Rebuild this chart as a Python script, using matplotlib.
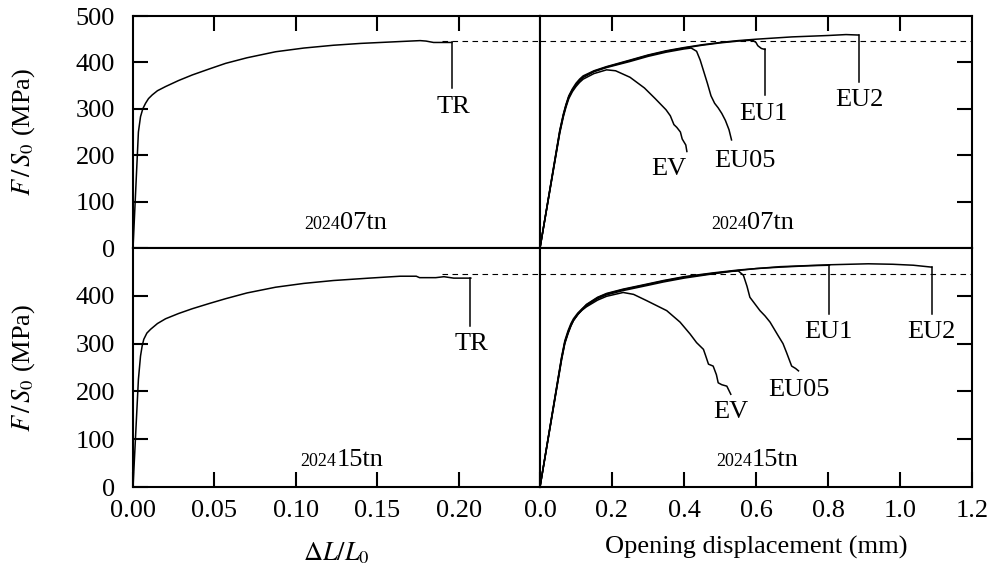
import numpy as np
import matplotlib
matplotlib.use("Agg")
import matplotlib.pyplot as plt

# tensile bar curves (strain vs nominal stress)
tr07_x = [0, 0.0033, 0.0046, 0.0060, 0.0077, 0.0095, 0.0118, 0.015, 0.020, 0.028,
          0.0364, 0.0469, 0.0569, 0.070, 0.0876, 0.105, 0.1231, 0.140, 0.1641,
          0.1764, 0.180, 0.1846, 0.1959]
tr07_y = [0, 250, 283, 300, 312, 322, 330, 339, 348, 361, 373, 386, 398, 410, 423,
          431, 437, 441, 445, 447, 446, 443, 443]
tr15_x = [0, 0.0033, 0.0046, 0.0056, 0.0066, 0.0085, 0.0108, 0.015, 0.020, 0.028,
          0.0364, 0.0469, 0.0569, 0.070, 0.0876, 0.105, 0.1231, 0.145, 0.1641,
          0.174, 0.176, 0.186, 0.191, 0.197, 0.2075]
tr15_y = [0, 225, 274, 295, 309, 322, 330, 342, 352, 363, 373, 384, 394, 406, 418,
          426, 432, 437, 441, 441, 438, 438, 440, 437, 437]

# notched specimens, series 202407tn (opening displacement vs F/S0)
ev07_x = [0, 0.055, 0.065, 0.072, 0.080, 0.090, 0.100, 0.110, 0.120, 0.150, 0.185,
          0.210, 0.250, 0.290, 0.320, 0.350, 0.362, 0.372, 0.380, 0.390, 0.395,
          0.405, 0.408]
ev07_y = [0, 248, 283, 303, 322, 337, 348, 357, 364, 376, 384, 382, 368, 345, 322,
          298, 285, 266, 260, 250, 235, 222, 208]
eu05_07_x = [0, 0.055, 0.065, 0.072, 0.080, 0.090, 0.100, 0.110, 0.120, 0.150, 0.185,
             0.250, 0.300, 0.350, 0.400, 0.420, 0.435, 0.445, 0.455, 0.465, 0.475,
             0.485, 0.495, 0.505, 0.515, 0.525, 0.532]
eu05_07_y = [0, 252, 287, 307, 326, 341, 352, 361, 368, 380, 389, 402, 413, 422, 429,
             431, 424, 405, 380, 355, 328, 312, 302, 290, 275, 255, 233]
eu1_07_x = [0, 0.055, 0.065, 0.072, 0.080, 0.090, 0.100, 0.110, 0.120, 0.150, 0.185,
            0.250, 0.300, 0.350, 0.400, 0.450, 0.500, 0.550, 0.590, 0.600, 0.605,
            0.615, 0.625]
eu1_07_y = [0, 250, 286, 306, 325, 340, 351, 361, 368, 381, 390, 404, 415, 424, 431,
            437, 442, 446, 448, 443, 436, 430, 428]
eu2_07_x = [0, 0.055, 0.065, 0.072, 0.080, 0.090, 0.100, 0.110, 0.120, 0.150, 0.185,
            0.250, 0.300, 0.350, 0.400, 0.450, 0.500, 0.550, 0.600, 0.700, 0.800,
            0.850, 0.885]
eu2_07_y = [0, 254, 289, 309, 328, 343, 355, 364, 371, 382, 391, 405, 416, 425, 432,
            438, 443, 447, 450, 455, 458, 460, 459]

# notched specimens, series 202415tn
ev15_x = [0, 0.060, 0.069, 0.078, 0.086, 0.093, 0.105, 0.117, 0.129, 0.160, 0.185,
          0.231, 0.260, 0.296, 0.352, 0.389, 0.417, 0.435, 0.454, 0.460, 0.468,
          0.481, 0.490, 0.495, 0.505, 0.519, 0.530]
ev15_y = [0, 270, 303, 324, 339, 349, 361, 370, 377, 391, 399, 407, 403, 390, 369,
          345, 320, 302, 288, 275, 257, 253, 235, 218, 214, 211, 194]
eu05_15_x = [0, 0.060, 0.069, 0.078, 0.086, 0.093, 0.105, 0.117, 0.129, 0.160, 0.185,
             0.231, 0.300, 0.343, 0.400, 0.481, 0.530, 0.551, 0.565, 0.575, 0.583,
             0.600, 0.611, 0.625, 0.639, 0.662, 0.675, 0.685, 0.699, 0.710, 0.718]
eu05_15_y = [0, 268, 302, 323, 338, 349, 361, 371, 379, 394, 402, 411, 422, 429, 437,
             446, 451, 452, 443, 420, 397, 380, 369, 358, 345, 316, 300, 281, 253,
             248, 243]
eu1_15_x = [0, 0.060, 0.069, 0.078, 0.086, 0.093, 0.105, 0.117, 0.129, 0.160, 0.185,
            0.231, 0.300, 0.343, 0.400, 0.481, 0.551, 0.600, 0.667, 0.750, 0.804]
eu1_15_y = [0, 272, 306, 327, 342, 352, 364, 373, 381, 396, 404, 413, 424, 431, 439,
            447, 453, 457, 460, 463, 464]
eu2_15_x = [0, 0.060, 0.069, 0.078, 0.086, 0.093, 0.105, 0.117, 0.129, 0.160, 0.185,
            0.231, 0.300, 0.343, 0.400, 0.481, 0.551, 0.667, 0.806, 0.912, 0.980,
            1.037, 1.088]
eu2_15_y = [0, 266, 300, 321, 337, 348, 361, 372, 382, 397, 405, 414, 425, 432, 440,
            448, 454, 461, 465, 467, 466, 464, 460]

# reference stress level (dashed) and curve labels: (text, x, baseline y, leader end y)
ref07, ref15 = 447, 445
labels_tl = [("TR", 0.197, 290, 344)]
labels_tr = [("EV", 0.358, 157, None), ("EU05", 0.569, 175, None),
             ("EU1", 0.620, 276, 330), ("EU2", 0.887, 306, 358)]
labels_bl = [("TR", 0.208, 286, 337)]
labels_br = [("EV", 0.529, 145, None), ("EU05", 0.719, 190, None),
             ("EU1", 0.801, 311, 362), ("EU2", 1.087, 311, 362)]

plt.rcParams.update({"font.family": "Liberation Serif", "mathtext.fontset": "stix",
                     "axes.linewidth": 1.5})
FS = 19
TL = 10.8  # tick length (pt)

fig = plt.figure(figsize=(9.95, 5.72), dpi=100)
ax_tl = fig.add_axes([0.1337, 0.5664, 0.4090, 0.4056])
ax_tr = fig.add_axes([0.5427, 0.5664, 0.4342, 0.4056])
ax_bl = fig.add_axes([0.1337, 0.1486, 0.4090, 0.4178])
ax_br = fig.add_axes([0.5427, 0.1486, 0.4342, 0.4178])

LW = 1.1
ax_tl.plot(tr07_x, tr07_y, color="black", lw=LW)
ax_bl.plot(tr15_x, tr15_y, color="black", lw=LW)
for xs, ys in [(ev07_x, ev07_y), (eu05_07_x, eu05_07_y), (eu1_07_x, eu1_07_y),
               (eu2_07_x, eu2_07_y)]:
    ax_tr.plot(xs, ys, color="black", lw=LW)
for xs, ys in [(ev15_x, ev15_y), (eu05_15_x, eu05_15_y), (eu1_15_x, eu1_15_y),
               (eu2_15_x, eu2_15_y)]:
    ax_br.plot(xs, ys, color="black", lw=LW)

# dashed reference line through both columns
dash = dict(color="black", lw=0.8, linestyle=(0, (5, 4)))
ax_tl.plot([0.19, 0.25], [ref07, ref07], **dash)
ax_tr.plot([0, 1.2], [ref07, ref07], **dash)
ax_bl.plot([0.19, 0.25], [ref15, ref15], **dash)
ax_br.plot([0, 1.2], [ref15, ref15], **dash)


def put_labels(ax, items, curves):
    ends = {}
    for xs, ys in curves:
        ends[round(xs[-1], 3)] = ys[-1]
    for txt, x, y, lead in items:
        ax.text(x, y, txt, fontsize=FS, ha="center", va="baseline")
        if lead is not None:
            # leader from the end of the nearest curve down to its label
            xe = min(ends, key=lambda k: abs(k - x))
            ax.plot([xe, xe], [ends[xe], lead], color="black", lw=LW)


put_labels(ax_tl, labels_tl, [(tr07_x, tr07_y)])
put_labels(ax_bl, labels_bl, [(tr15_x, tr15_y)])
put_labels(ax_tr, labels_tr, [(eu1_07_x, eu1_07_y), (eu2_07_x, eu2_07_y)])
put_labels(ax_br, labels_br, [(eu1_15_x, eu1_15_y), (eu2_15_x, eu2_15_y)])

# series names, small "2024" prefix
for ax, x, y, tail in [(ax_tl, 0.127, 40, "07tn"), (ax_tr, 0.575, 40, "07tn"),
                       (ax_bl, 0.125, 44, "15tn"), (ax_br, 0.589, 44, "15tn")]:
    ax.text(x, y, "2024", fontsize=13, ha="right", va="baseline")
    ax.text(x, y, tail, fontsize=FS, ha="left", va="baseline")

for ax in (ax_tl, ax_bl):
    ax.set_xlim(0, 0.25)
for ax in (ax_tr, ax_br):
    ax.set_xlim(0, 1.2)
for ax in (ax_tl, ax_tr, ax_bl, ax_br):
    ax.set_ylim(0, 500)
    ax.tick_params(direction="in", length=TL, width=1.5, labelsize=FS, pad=9)

# top row: x ticks on top edge, no labels
ax_tl.set_xticks([0.05, 0.10, 0.15, 0.20])
ax_tr.set_xticks([0.2, 0.4, 0.6, 0.8, 1.0])
for ax in (ax_tl, ax_tr):
    ax.tick_params(axis="x", top=True, bottom=False, labeltop=False, labelbottom=False)

# bottom row: x ticks on bottom edge with labels
ax_bl.set_xticks([0, 0.05, 0.10, 0.15, 0.20])
ax_bl.set_xticklabels(["0.00", "0.05", "0.10", "0.15", "0.20"])
ax_br.set_xticks([0, 0.2, 0.4, 0.6, 0.8, 1.0, 1.2])
ax_br.set_xticklabels(["0.0", "0.2", "0.4", "0.6", "0.8", "1.0", "1.2"])

# left column: stress ticks on left
ax_tl.set_yticks([0, 100, 200, 300, 400, 500])
ax_bl.set_yticks([0, 100, 200, 300, 400])
for ax in (ax_tl, ax_bl):
    ax.tick_params(axis="y", pad=13)
    ax.set_ylabel(r"$F\,/\,S_0$ (MPa)", fontsize=FS)
    ax.yaxis.set_label_coords(-0.235, 0.5)

# right column: stress ticks on right edge, unlabeled
for ax in (ax_tr, ax_br):
    ax.set_yticks([100, 200, 300, 400])
    ax.tick_params(axis="y", left=False, right=True, labelleft=False, labelright=False)

ax_bl.set_xlabel(r"$\Delta L/L_0$", fontsize=FS)
ax_bl.xaxis.set_label_coords(0.5, -0.225)
ax_br.set_xlabel("Opening displacement (mm)", fontsize=FS)
ax_br.xaxis.set_label_coords(0.5, -0.205)

fig.savefig("out.png", dpi=100)
